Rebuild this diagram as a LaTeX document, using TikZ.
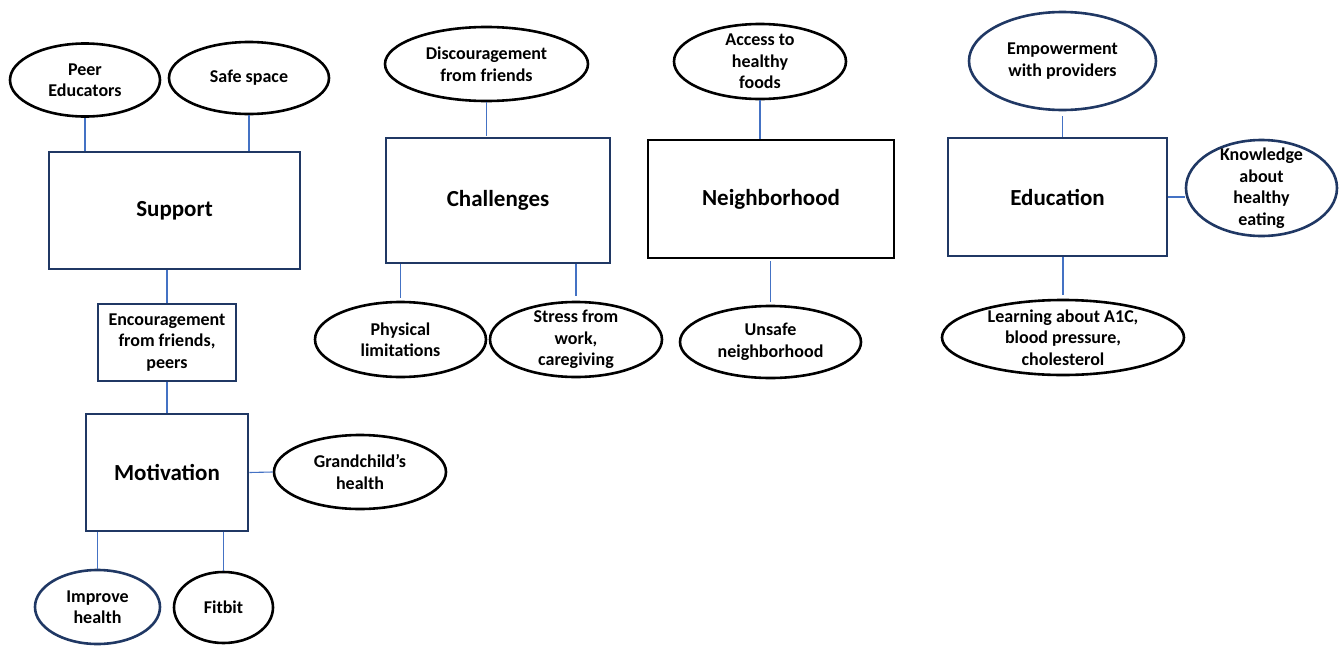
\documentclass[tikz,border=0pt]{standalone}
\usepackage{fontspec}
\setmainfont{Carlito}
\usepackage{tikz}
\usetikzlibrary{shapes.geometric}
\usepackage{xcolor}
\definecolor{navy}{HTML}{203864}
\definecolor{linkblue}{HTML}{4472C4}

\begin{document}
\begin{tikzpicture}[x=1pt,y=-1pt]
		\tikzstyle{every node}=[align=center, inner sep=0pt, font=\fontsize{18}{21.5}\selectfont\bfseries]
		\tikzstyle{theme}=[draw=navy, line width=2.6pt, rectangle]
		\tikzstyle{bigtext}=[font=\fontsize{23}{27}\selectfont\bfseries]
		\tikzstyle{idea}=[draw=black, line width=2.6pt, ellipse, inner xsep=0pt, inner ysep=-14pt]
		\tikzstyle{link}=[draw=linkblue, line width=1.1pt]
		\useasboundingbox (0,0) rectangle (1342,648);
		% themes
		\node[theme, bigtext, minimum width=251pt, minimum height=117pt] (support) at (174.5,210.5) {Support};
		\node[theme, minimum width=138pt, minimum height=77pt] (encourage) at (167,342.5) {Encouragement\\from friends,\\peers};
		\node[theme, bigtext, minimum width=162pt, minimum height=117pt] (motivation) at (167,472.5) {Motivation};
		\node[theme, bigtext, minimum width=224pt, minimum height=125pt] (challenges) at (498,200.5) {Challenges};
		\node[theme, bigtext, draw=black, minimum width=246pt, minimum height=118pt] (neighborhood) at (771,199) {Neighborhood};
		\node[theme, bigtext, minimum width=219pt, minimum height=118pt] (education) at (1057.5,197) {Education};
		% ideas
		\node[idea, minimum width=150pt, minimum height=73pt] (peer) at (85,80) {Peer\\Educators};
		\node[idea, minimum width=160pt, minimum height=72pt] (safe) at (249,78) {Safe space};
		\node[idea, minimum width=172pt, minimum height=74pt] (grand) at (360,472) {Grandchild’s\\health};
		\node[idea, draw=navy, minimum width=125pt, minimum height=74pt] (improve) at (97.5,607) {Improve\\health};
		\node[idea, minimum width=99pt, minimum height=71pt] (fitbit) at (223.5,607.5) {Fitbit};
		\node[idea, minimum width=203pt, minimum height=74pt] (discourage) at (486.5,64) {Discouragement\\from friends};
		\node[idea, minimum width=171pt, minimum height=75pt] (physical) at (400.5,339.5) {Physical\\limitations};
		\node[idea, minimum width=172pt, minimum height=75pt] (stress) at (576,339.5) {Stress from\\work,\\caregiving};
		\node[idea, minimum width=172pt, minimum height=75pt] (access) at (760,61.5) {Access to\\healthy\\foods};
		\node[idea, minimum width=181pt, minimum height=72pt] (unsafe) at (770.5,342) {Unsafe\\neighborhood};
		\node[idea, draw=navy, minimum width=187pt, minimum height=98pt] (empower) at (1062.5,61) {Empowerment\\with providers};
		\node[idea, draw=navy, minimum width=151pt, minimum height=96pt] (know) at (1261.5,188) {Knowledge\\about\\healthy\\eating};
		\node[idea, minimum width=242pt, minimum height=75pt] (learning) at (1063,337.5) {Learning about A1C,\\blood pressure,\\cholesterol};
		% links
		\draw[link] (peer.south) -- (peer.south |- support.north);
		\draw[link] (safe.south) -- (safe.south |- support.north);
		\draw[link] (encourage.north |- support.south) -- (encourage.north);
		\draw[link] (encourage.south) -- (motivation.north);
		\draw[link] (motivation.east) -- (grand.west);
		\draw[link] (improve.north) -- (improve.north |- motivation.south);
		\draw[link] (fitbit.north) -- (fitbit.north |- motivation.south);
		\draw[link, shorten >=1pt] (discourage.south) -- (discourage.south |- challenges.north);
		\draw[link, shorten >=3pt] (physical.north |- challenges.south) -- (physical.north);
		\draw[link, shorten >=5pt] (stress.north |- challenges.south) -- (stress.north);
		\draw[link] (access.south) -- (access.south |- neighborhood.north);
		\draw[link, shorten <=2pt, shorten >=3pt] (unsafe.north |- neighborhood.south) -- (unsafe.north);
		\draw[link, shorten <=5pt] (empower.south) -- (empower.south |- education.north);
		\draw[link] (education.east) -- (education.east -| know.west);
		\draw[link, shorten >=4pt] (learning.north |- education.south) -- (learning.north);
	\end{tikzpicture}
\end{document}
